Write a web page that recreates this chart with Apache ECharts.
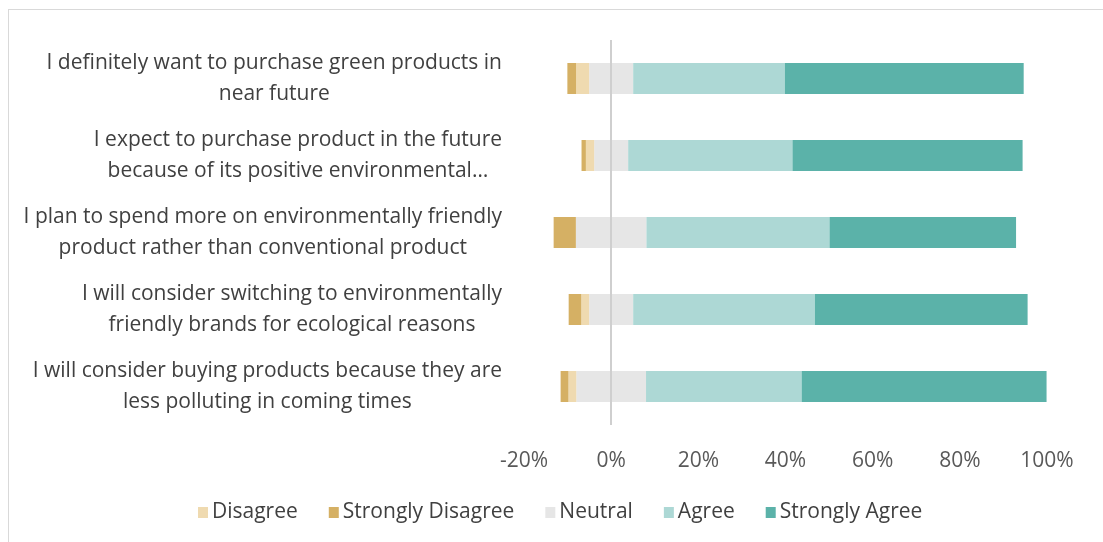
<!DOCTYPE html>
<html><head><meta charset="utf-8">
<script src="https://cdn.jsdelivr.net/npm/echarts@6/dist/echarts.min.js"></script>
<style>
html,body{margin:0;padding:0;background:#fff;}
#c{width:1103px;height:542px;position:absolute;left:0;top:0;}
#frame{position:absolute;left:8px;top:9px;right:0;bottom:0;border-top:1.5px solid #d9d9d9;border-left:1.5px solid #d9d9d9;pointer-events:none;}
</style>
</head><body><div id="c"></div><div id="frame"></div>
<script>
const categories = [
  'I definitely want to purchase green products in\nnear future',
  'I expect to purchase product in the future\nbecause of its positive environmental…',
  'I plan to spend more on environmentally friendly\nproduct rather than conventional product',
  'I will consider switching to environmentally\nfriendly brands for ecological reasons',
  'I will consider buying products because they are\nless polluting in coming times'
];
const stronglyDisagree = [2.0, 1.0, 5.1, 2.9, 1.8];
const disagree = [3.0, 1.9, 0, 1.8, 1.8];
const neutral = [10.1, 7.8, 16.2, 10.1, 16.0];
const agree = [34.8, 37.7, 42.0, 41.7, 35.7];
const stronglyAgree = [54.8, 52.8, 42.8, 48.8, 56.2];
const xTicks = [-20, 0, 20, 40, 60, 80, 100];
const legendNames = ['Disagree', 'Strongly Disagree', 'Neutral', 'Agree', 'Strongly Agree'];

const FONT = '"Open Sans", sans-serif';
const FS = 21;
const colors = {
  'Disagree': '#EFDAB0',
  'Strongly Disagree': '#D5B064',
  'Neutral': '#E6E6E6',
  'Agree': '#ADD8D5',
  'Strongly Agree': '#5BB2A9'
};

// measure label lines so multi-line labels are centred within a right-aligned block
const cv = document.createElement('canvas').getContext('2d');
cv.font = FS + 'px ' + FONT;
const rich = {};
categories.forEach((c, i) => {
  const w = Math.max(...c.split('\n').map(l => cv.measureText(l).width)) + 2;
  rich['w' + i] = {width: w, align: 'center', fontSize: FS, fontFamily: FONT, color: '#404040', lineHeight: 31};
});

const neg = a => a.map(v => -v);
const half = a => a.map(v => v / 2);

function bar(name, data, extra) {
  return Object.assign({
    name: name, type: 'bar', stack: 'total', data: data, barWidth: 31,
    itemStyle: {color: colors[name]}, emphasis: {disabled: true}
  }, extra || {});
}

const chart = echarts.init(document.getElementById('c'), null, {renderer: 'canvas'});
chart.setOption({
  animation: false,
  backgroundColor: '#fff',
  grid: {left: 524, right: 56, top: 40, bottom: 117},
  legend: {
    data: legendNames, left: 193, top: 497, icon: 'rect',
    itemWidth: 10, itemHeight: 11, itemGap: 31, selectedMode: false,
    textStyle: {fontSize: FS, fontFamily: FONT, color: '#404040', padding: [0, 0, 0, -1]}
  },
  xAxis: {
    type: 'value', min: xTicks[0], max: xTicks[xTicks.length - 1], interval: 20,
    axisLine: {show: false}, axisTick: {show: false}, splitLine: {show: false},
    axisLabel: {formatter: v => v + '%', fontSize: FS, fontFamily: FONT, color: '#595959', margin: 26}
  },
  yAxis: {
    type: 'category', data: categories, inverse: true,
    axisLine: {show: false}, axisTick: {show: false},
    axisLabel: {
      margin: 21, fontSize: FS, fontFamily: FONT, color: '#404040', lineHeight: 31,
      formatter: (v, i) => v.split('\n').map(l => '{w' + i + '|' + l + '}').join('\n'),
      rich: rich
    }
  },
  series: [
    bar('Neutral', neg(half(neutral)), {
      markLine: {
        silent: true, symbol: ['none', 'none'], label: {show: false},
        lineStyle: {color: '#cfcfcf', width: 2, type: 'solid'},
        data: [{xAxis: 0}], z: 10
      }
    }),
    bar('Disagree', neg(disagree)),
    bar('Strongly Disagree', neg(stronglyDisagree)),
    bar('Neutral', half(neutral)),
    bar('Agree', agree),
    bar('Strongly Agree', stronglyAgree)
  ]
});
</script>
</body></html>
